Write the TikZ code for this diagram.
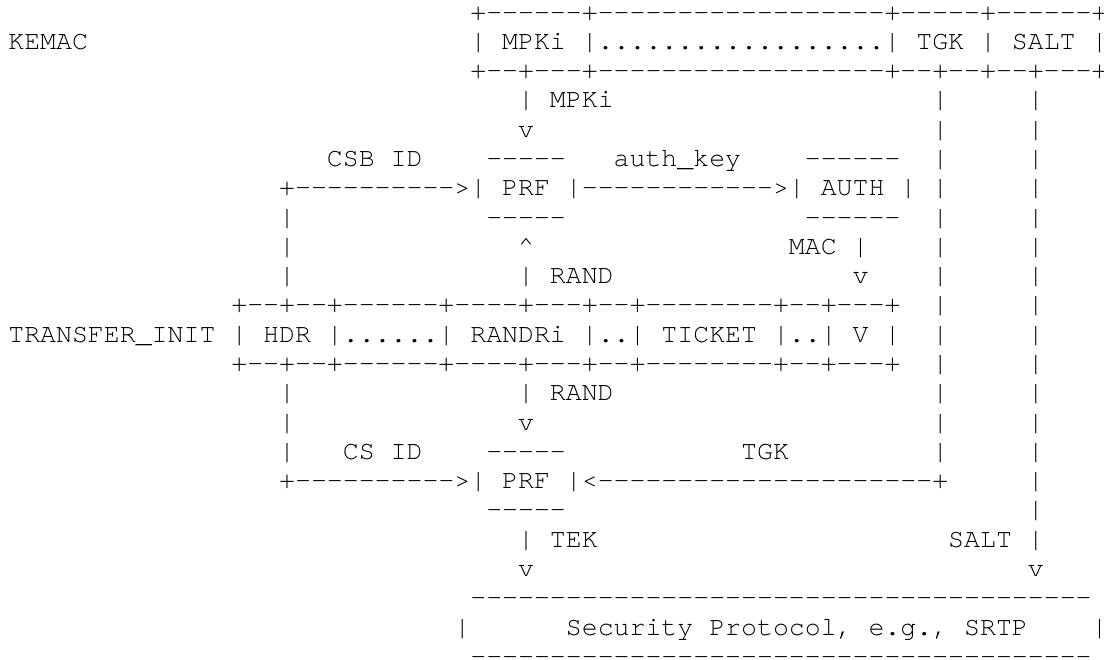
\documentclass[tikz,border=0pt]{standalone}
\usepackage{fontspec}
\setmonofont{TeX Gyre Cursor}
\newlength{\colw}
\setlength{\colw}{6pt}
\newcommand{\gap}[1]{\hspace*{#1\colw}}
\tikzset{row/.style={anchor=base west, inner sep=0pt, font=\ttfamily\frenchspacing}}
\begin{document}
\begin{tikzpicture}[x=\colw, y=-11.03pt]
		\path[use as bounding box, fill=white] (-0.49,-0.6827) rectangle (68.81,21.82);
		% KEMAC payload
		\node[row] (r1) at (29,0) {+------+------------------+-----+------+};
		\node[row] (r2) at (0,1) {KEMAC\gap{24}| MPKi |..................| TGK | SALT |};
		\node[row] (r3) at (29,2) {+--+---+------------------+--+--+--+---+};
		\node[row] (r4) at (32,3) {| MPKi\gap{20}|\gap{5}|};
		\node[row] (r5) at (32,4) {v\gap{25}|\gap{5}|};
		% PRF and AUTH
		\node[row] (r6) at (20,5) {CSB ID\gap{4}-----\gap{3}auth\_key\gap{4}------\gap{2}|\gap{5}|};
		\node[row] (r7) at (17,6) {+---------->| PRF |------------>| AUTH | |\gap{5}|};
		\node[row] (r8) at (17,7) {|\gap{12}-----\gap{15}------\gap{2}|\gap{5}|};
		\node[row] (r9) at (17,8) {|\gap{14}\textasciicircum\gap{16}MAC |\gap{4}|\gap{5}|};
		\node[row] (r10) at (17,9) {|\gap{14}| RAND\gap{15}v\gap{4}|\gap{5}|};
		% TRANSFER_INIT message
		\node[row] (r11) at (14,10) {+--+--+------+----+---+--+--------+--+---+\gap{2}|\gap{5}|};
		\node[row] (r12) at (0,11) {TRANSFER\_INIT | HDR |......| RANDRi |..| TICKET |..| V |\gap{2}|\gap{5}|};
		\node[row] (r13) at (14,12) {+--+--+------+----+---+--+--------+--+---+\gap{2}|\gap{5}|};
		% second PRF
		\node[row] (r14) at (17,13) {|\gap{14}| RAND\gap{20}|\gap{5}|};
		\node[row] (r15) at (17,14) {|\gap{14}v\gap{25}|\gap{5}|};
		\node[row] (r16) at (17,15) {|\gap{3}CS ID\gap{4}-----\gap{11}TGK\gap{9}|\gap{5}|};
		\node[row] (r17) at (17,16) {+---------->| PRF |<---------------------+\gap{5}|};
		\node[row] (r18) at (30,17) {-----\gap{29}|};
		\node[row] (r19) at (32,18) {| TEK\gap{22}SALT |};
		\node[row] (r20) at (32,19) {v\gap{31}v};
		% security protocol
		\node[row] (r21) at (29,20) {---------------------------------------};
		\node[row] (r22) at (28,21) {|\gap{6}Security Protocol, e.g., SRTP\gap{4}|};
		\node[row] (r23) at (29,22) {---------------------------------------};
	\end{tikzpicture}
\end{document}
